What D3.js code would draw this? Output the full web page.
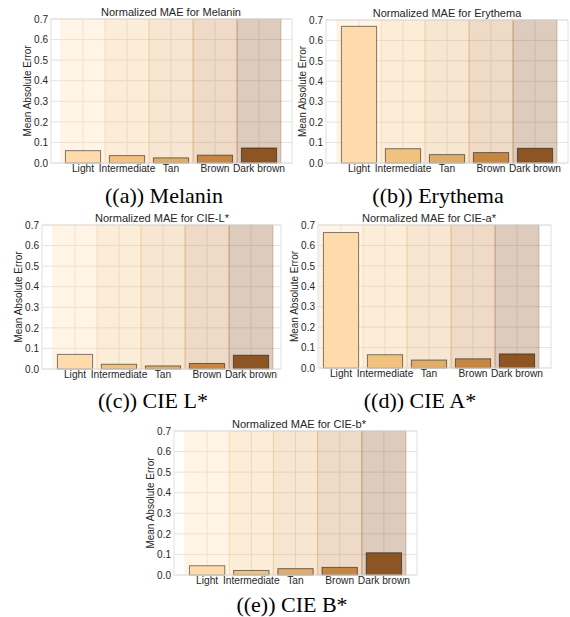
<!DOCTYPE html>
<html>
<head>
<meta charset="utf-8">
<script src="https://cdn.jsdelivr.net/npm/d3@7"></script>
<style>
  html, body { margin: 0; padding: 0; background: #fff; }
  svg { display: block; }
</style>
</head>
<body>
<svg id="chart" width="570" height="617"></svg>
<script>
// skin tone categories and their colours
const categories = ['Light', 'Intermediate', 'Tan', 'Brown', 'Dark brown'];
const toneColors = ['#FFDBAC', '#F1C27D', '#E0AC69', '#C68642', '#8D5524'];

// normalized MAE per category
const melaninMAE  = [0.060, 0.036, 0.025, 0.038, 0.073];
const erythemaMAE = [0.669, 0.070, 0.041, 0.051, 0.072];
const cieLMAE     = [0.071, 0.023, 0.015, 0.027, 0.067];
const cieAMAE     = [0.663, 0.065, 0.039, 0.045, 0.069];
const cieBMAE     = [0.045, 0.022, 0.031, 0.037, 0.108];

const yTicks = [0, 0.1, 0.2, 0.3, 0.4, 0.5, 0.6, 0.7];

const titles   = ['Normalized MAE for Melanin', 'Normalized MAE for Erythema',
                  'Normalized MAE for CIE-L*', 'Normalized MAE for CIE-a*',
                  'Normalized MAE for CIE-b*'];
const captions = ['((a)) Melanin', '((b)) Erythema', '((c)) CIE L*', '((d)) CIE A*', '((e)) CIE B*'];
const seriesList = [melaninMAE, erythemaMAE, cieLMAE, cieAMAE, cieBMAE];

// where each sub-figure sits on the page
const layout = [
    { plotL: 51,  plotR: 292, bandL: 61,  bandR: 281, top: 19,  bottom: 163, titleX: 171, capX: 164, capY: 203 },
    { plotL: 326, plotR: 568, bandL: 337, bandR: 557, top: 20,  bottom: 163, titleX: 447, capX: 438, capY: 203 },
    { plotL: 42,  plotR: 281, bandL: 53,  bandR: 273, top: 225, bottom: 369, titleX: 162, capX: 153, capY: 408 },
    { plotL: 318, plotR: 551, bandL: 319, bandR: 539, top: 225, bottom: 368, titleX: 429, capX: 420, capY: 408 },
    { plotL: 174, plotR: 417, bandL: 185, bandR: 406, top: 431, bottom: 575, titleX: 299, capX: 292, capY: 612 }
];

const svg = d3.select('#chart');
const sans = "'Liberation Sans', Arial, sans-serif";

function drawPanel(i) {
    const L = layout[i];
    const values = seriesList[i];
    const g = svg.append('g');

    const x = d3.scaleBand()
        .domain(categories)
        .range([L.bandL, L.bandR])
        .padding(0);

    const y = d3.scaleLinear()
        .domain([0, 0.7])
        .range([L.bottom, L.top]);

    // grid (below everything else, like seaborn whitegrid)
    g.append('g')
        .selectAll('line')
        .data(yTicks)
        .join('line')
        .attr('x1', L.plotL).attr('x2', L.plotR)
        .attr('y1', d => y(d)).attr('y2', d => y(d))
        .attr('stroke', '#e4e4e4')
        .attr('stroke-width', 1);

    g.append('g')
        .selectAll('line')
        .data(categories)
        .join('line')
        .attr('x1', d => x(d) + x.bandwidth() / 2)
        .attr('x2', d => x(d) + x.bandwidth() / 2)
        .attr('y1', L.top).attr('y2', L.bottom)
        .attr('stroke', '#e4e4e4')
        .attr('stroke-width', 1);

    // translucent background band per skin tone
    g.append('g')
        .selectAll('rect')
        .data(categories)
        .join('rect')
        .attr('x', d => x(d))
        .attr('y', L.top)
        .attr('width', x.bandwidth())
        .attr('height', L.bottom - L.top)
        .attr('fill', (d, j) => toneColors[j])
        .attr('fill-opacity', 0.3)
        .attr('stroke', (d, j) => toneColors[j])
        .attr('stroke-opacity', 0.3)
        .attr('stroke-width', 1);

    // bars
    const bw = x.bandwidth() * 0.8;
    g.append('g')
        .selectAll('rect')
        .data(values)
        .join('rect')
        .attr('x', (d, j) => x(categories[j]) + (x.bandwidth() - bw) / 2)
        .attr('y', d => y(d))
        .attr('width', bw)
        .attr('height', d => y(0) - y(d))
        .attr('fill', (d, j) => toneColors[j])
        .attr('stroke', 'rgba(0,0,0,0.5)')
        .attr('stroke-width', 1);

    // frame
    g.append('rect')
        .attr('x', L.plotL).attr('y', L.top)
        .attr('width', L.plotR - L.plotL)
        .attr('height', L.bottom - L.top)
        .attr('fill', 'none')
        .attr('stroke', '#e0e0e0')
        .attr('stroke-width', 1);

    // y axis labels
    const yAxis = d3.axisLeft(y)
        .tickValues(yTicks)
        .tickFormat(d3.format('.1f'))
        .tickSize(0)
        .tickPadding(3);
    const ya = g.append('g')
        .attr('transform', `translate(${L.plotL},0)`)
        .call(yAxis);
    ya.select('.domain').remove();
    ya.selectAll('text')
        .attr('font-family', sans)
        .attr('font-size', 10)
        .attr('fill', '#262626');

    // x axis labels
    const xAxis = d3.axisBottom(x).tickSize(0).tickPadding(2);
    const xa = g.append('g')
        .attr('transform', `translate(0,${L.bottom})`)
        .call(xAxis);
    xa.select('.domain').remove();
    xa.selectAll('text')
        .attr('font-family', sans)
        .attr('font-size', 10.2)
        .attr('fill', '#262626');

    // y axis title
    g.append('text')
        .attr('transform', `translate(${L.plotL - 24},${(L.top + L.bottom) / 2}) rotate(-90)`)
        .attr('text-anchor', 'middle')
        .attr('dy', '0.35em')
        .attr('font-family', sans)
        .attr('font-size', 10)
        .attr('fill', '#262626')
        .text('Mean Absolute Error');

    // chart title
    g.append('text')
        .attr('x', L.titleX)
        .attr('y', L.top - 3)
        .attr('text-anchor', 'middle')
        .attr('font-family', sans)
        .attr('font-size', 11)
        .attr('fill', '#262626')
        .text(titles[i]);

    // sub-figure caption
    g.append('text')
        .attr('x', L.capX)
        .attr('y', L.capY)
        .attr('text-anchor', 'middle')
        .attr('font-family', "'Liberation Serif', 'Times New Roman', serif")
        .attr('font-size', 22)
        .attr('fill', '#000')
        .text(captions[i]);
}

layout.forEach((d, i) => drawPanel(i));
</script>
</body>
</html>
